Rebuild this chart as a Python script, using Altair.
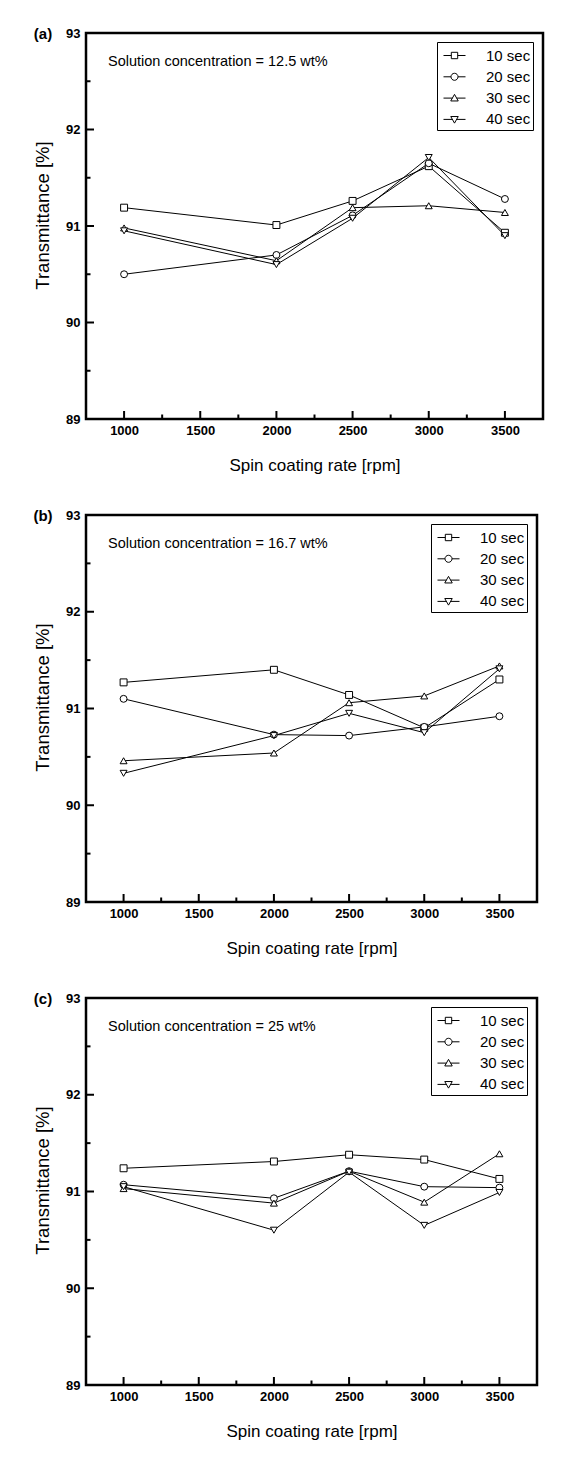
import altair as alt
import pandas as pd

# ---------------- data ----------------
rpm = [1000, 2000, 2500, 3000, 3500]
series = ["10 sec", "20 sec", "30 sec", "40 sec"]

# panel (a) 12.5 wt%
a_10 = [91.19, 91.01, 91.26, 91.62, 90.93]
a_20 = [90.50, 90.70, 91.11, 91.65, 91.28]
a_30 = [90.98, 90.64, 91.19, 91.21, 91.14]
a_40 = [90.95, 90.60, 91.08, 91.71, 90.90]

# panel (b) 16.7 wt%
b_10 = [91.27, 91.40, 91.14, 90.80, 91.30]
b_20 = [91.10, 90.73, 90.72, 90.81, 90.92]
b_30 = [90.46, 90.54, 91.06, 91.13, 91.44]
b_40 = [90.33, 90.72, 90.95, 90.75, 91.41]

# panel (c) 25 wt%
c_10 = [91.24, 91.31, 91.38, 91.33, 91.13]
c_20 = [91.07, 90.93, 91.21, 91.05, 91.04]
c_30 = [91.03, 90.88, 91.21, 90.89, 91.39]
c_40 = [91.05, 90.60, 91.20, 90.65, 90.99]

x_labels = [1000, 1500, 2000, 2500, 3000, 3500]
x_minor = [1250, 1750, 2250, 2750, 3250]
y_labels = [89, 90, 91, 92, 93]
y_major_inner = [90, 91, 92]
y_minor = [89.5, 90.5, 91.5, 92.5]

FONT = "Liberation Sans"
point_shapes = ["square", "circle", "triangle-up", "triangle-down"]
legend_shapes = [
    "M-1,0H-0.29M0.29,0H1M-0.29,-0.29H0.29V0.29H-0.29Z",
    "M-1,0H-0.32M0.32,0H1M0.32,0A0.32,0.32,0,1,1,-0.32,0A0.32,0.32,0,1,1,0.32,0Z",
    "M-1,0H-0.19M0.19,0H1M0,-0.34L0.34,0.26L-0.34,0.26Z",
    "M-1,0H-0.19M0.19,0H1M0,0.34L0.34,-0.26L-0.34,-0.26Z",
]

XS = alt.Scale(domain=[750, 3750], nice=False, zero=False)
YS = alt.Scale(domain=[89, 93], nice=False, zero=False)
XAXIS = alt.Axis(values=x_labels, format="d", title="Spin coating rate [rpm]",
                 labelFont=FONT, labelFontSize=13, labelFontWeight="bold",
                 labelColor="black", labelPadding=5, labelOverlap=False,
                 labelFlush=False, ticks=False, domain=False, grid=False,
                 titleFont=FONT, titleFontSize=17, titleFontWeight="normal",
                 titleColor="black", titleY=46.5, titleBaseline="middle")
YAXIS = alt.Axis(values=y_labels, format="d", title="Transmittance [%]",
                 labelFont=FONT, labelFontSize=13, labelFontWeight="bold",
                 labelColor="black", labelPadding=6, labelOverlap=False,
                 labelFlush=False, ticks=False, domain=False, grid=False,
                 titleFont=FONT, titleFontSize=18.5, titleFontWeight="normal",
                 titleColor="black", titleX=-44, titleY=182,
                 titleBaseline="middle")


def X():
    return alt.X("rpm:Q", scale=XS, axis=XAXIS)


def Y():
    return alt.Y("T:Q", scale=YS, axis=YAXIS)


def panel(tag, note, values, w, h):
    rows = []
    for s, vals in zip(series, values):
        for r, v in zip(rpm, vals):
            rows.append({"rpm": r, "T": v, "series": s})
    df = pd.DataFrame(rows)

    lines = alt.Chart(df).mark_line(color="black", strokeWidth=1).encode(
        x=X(), y=Y(), detail="series:N")
    pts = alt.Chart(df).mark_point(filled=True, fill="white", stroke="black",
                                   strokeWidth=1, size=48, opacity=1).encode(
        x=X(), y=Y(),
        shape=alt.Shape("series:N", scale=alt.Scale(domain=series, range=point_shapes),
                        legend=None),
    )
    leg = alt.Chart(df).transform_filter("false").mark_point(
        filled=False, color="black", strokeWidth=1, opacity=1
    ).encode(
        shape=alt.Shape("series:N", scale=alt.Scale(domain=series, range=legend_shapes),
                        legend=alt.Legend(title=None, orient="none",
                                          legendX=w - 106, legendY=9,
                                          strokeColor="black", padding=2,
                                          fillColor="white",
                                          symbolSize=484, symbolOffset=4,
                                          symbolStrokeColor="black",
                                          symbolStrokeWidth=1,
                                          symbolOpacity=1,
                                          labelFont=FONT, labelFontSize=15,
                                          labelColor="black", labelOffset=20,
                                          rowPadding=1.3)),
    )

    xt_major = alt.Chart(pd.DataFrame({"rpm": x_labels})).mark_rule(
        color="black", strokeWidth=2).encode(
        x=X(), y=alt.value(h), y2=alt.value(h - 8))
    xt_minor = alt.Chart(pd.DataFrame({"rpm": x_minor})).mark_rule(
        color="black", strokeWidth=2).encode(
        x=X(), y=alt.value(h), y2=alt.value(h - 4.5))
    yt_major = alt.Chart(pd.DataFrame({"T": y_major_inner})).mark_rule(
        color="black", strokeWidth=2).encode(
        y=Y(), x=alt.value(0), x2=alt.value(8))
    yt_minor = alt.Chart(pd.DataFrame({"T": y_minor})).mark_rule(
        color="black", strokeWidth=2).encode(
        y=Y(), x=alt.value(0), x2=alt.value(4.5))

    tag_t = alt.Chart(pd.DataFrame({"t": [tag]})).mark_text(
        font=FONT, fontSize=15, fontWeight="bold", align="center",
        baseline="middle", color="black").encode(
        text="t:N", x=alt.value(-43), y=alt.value(1))
    note_t = alt.Chart(pd.DataFrame({"t": [note]})).mark_text(
        font=FONT, fontSize=14.5, align="left", baseline="middle",
        color="black").encode(
        text="t:N", x=alt.value(22), y=alt.value(29))

    return alt.layer(lines, pts, leg, xt_major, xt_minor, yt_major, yt_minor,
                     tag_t, note_t).resolve_scale(shape="independent").properties(
        width=w, height=h)


pa = panel("(a)", "Solution concentration = 12.5 wt%", [a_10, a_20, a_30, a_40], 457, 386)
pb = panel("(b)", "Solution concentration = 16.7 wt%", [b_10, b_20, b_30, b_40], 451, 387)
pc = panel("(c)", "Solution concentration = 25 wt%", [c_10, c_20, c_30, c_40], 451, 387)

chart = alt.vconcat(pa, pb, pc, spacing=32).properties(
    padding={"left": 23, "top": 17, "right": 0, "bottom": 0},
    background="white",
).configure_view(stroke="black", strokeWidth=2.5)

chart.save("out.html", embed_options={"renderer": "svg", "actions": False})
